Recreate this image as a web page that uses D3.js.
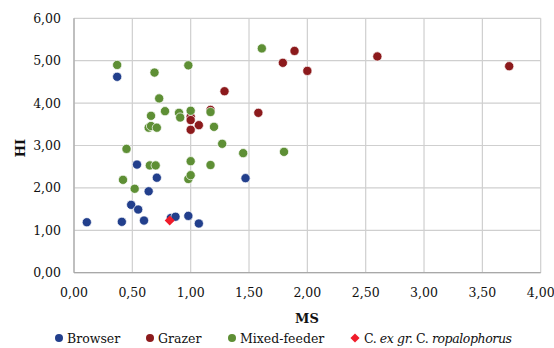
<!DOCTYPE html>
<html>
<head>
<meta charset="utf-8">
<script src="https://cdn.jsdelivr.net/npm/d3@7"></script>
<style>
  body { margin: 0; background: #fff; }
  svg { display: block; font-family: "DejaVu Serif", serif; }
</style>
</head>
<body>
<div id="chart"></div>
<script>
// values (MS, HI)
const browserMS = [0.11, 0.41, 0.49, 0.55, 0.60, 0.64, 0.71, 0.83, 0.87, 0.98, 1.07, 1.47, 0.54, 0.37];
const browserHI = [1.19, 1.20, 1.60, 1.49, 1.23, 1.92, 2.24, 1.29, 1.32, 1.34, 1.16, 2.23, 2.55, 4.62];

const grazerMS = [1.89, 1.79, 2.00, 2.60, 3.73, 1.29, 1.58, 1.00, 1.00, 1.07, 1.00, 1.17];
const grazerHI = [5.23, 4.95, 4.76, 5.10, 4.87, 4.28, 3.77, 3.68, 3.60, 3.48, 3.37, 3.84];

const mixedMS = [0.37, 0.69, 0.98, 1.61, 0.73, 0.78, 0.90, 0.91, 1.00, 1.17, 0.66, 0.64, 0.66, 0.71,
                 1.20, 1.27, 1.45, 0.45, 0.65, 0.70, 1.00, 1.17, 1.80, 0.42, 0.52, 0.98, 1.00];
const mixedHI = [4.90, 4.72, 4.89, 5.29, 4.11, 3.81, 3.77, 3.66, 3.82, 3.79, 3.70, 3.42, 3.46, 3.42,
                 3.44, 3.04, 2.82, 2.92, 2.53, 2.53, 2.63, 2.54, 2.85, 2.19, 1.98, 2.21, 2.30];

const ropaloMS = [0.82];
const ropaloHI = [1.23];

const xTicks = [0, 0.5, 1, 1.5, 2, 2.5, 3, 3.5, 4];
const yTicks = [0, 1, 2, 3, 4, 5, 6];

const W = 554, H = 348;
const fmt = d => d3.format(".2f")(d).replace(".", ",");

const svg = d3.select("#chart").append("svg")
  .attr("width", W).attr("height", H);

const x = d3.scaleLinear().domain([0, 4]).range([74, 540.7]);
const y = d3.scaleLinear().domain([0, 6]).range([272.7, 18.3]);

// gridlines
svg.append("g").selectAll("line").data(xTicks).join("line")
  .attr("x1", d => x(d)).attr("x2", d => x(d))
  .attr("y1", y(0)).attr("y2", y(6))
  .attr("stroke", "#cfcfcf").attr("stroke-width", 1.2);
svg.append("g").selectAll("line").data(yTicks).join("line")
  .attr("x1", x(0)).attr("x2", x(4))
  .attr("y1", d => y(d)).attr("y2", d => y(d))
  .attr("stroke", "#cfcfcf").attr("stroke-width", 1.2);

// axes lines
svg.append("line").attr("x1", x(0)).attr("x2", x(0)).attr("y1", y(0)).attr("y2", y(6))
  .attr("stroke", "#a8a8a8").attr("stroke-width", 1.2);
svg.append("line").attr("x1", x(0)).attr("x2", x(4)).attr("y1", y(0)).attr("y2", y(0))
  .attr("stroke", "#a8a8a8").attr("stroke-width", 1.2);

// tick labels
svg.append("g").selectAll("text").data(xTicks).join("text")
  .attr("x", d => x(d)).attr("y", 297)
  .attr("text-anchor", "middle")
  .attr("font-size", 12.5).attr("fill", "#111")
  .text(fmt);
svg.append("g").selectAll("text").data(yTicks).join("text")
  .attr("x", 61).attr("y", d => y(d) + 4.5)
  .attr("text-anchor", "end")
  .attr("font-size", 12.5).attr("fill", "#111")
  .text(fmt);

// axis titles
svg.append("text").attr("x", 307).attr("y", 323)
  .attr("text-anchor", "middle").attr("font-size", 13).attr("font-weight", "bold")
  .attr("fill", "#111").text("MS");
svg.append("text").attr("transform", "translate(25,148) rotate(-90)")
  .attr("text-anchor", "middle").attr("font-size", 13).attr("font-weight", "bold")
  .attr("fill", "#111").text("HI");

const colors = { browser: "#223f8c", grazer: "#8c1a1c", mixed: "#5e8f35", ropalo: "#f01c2a" };

function dots(ms, hi, color) {
  svg.append("g").selectAll("circle").data(d3.zip(ms, hi)).join("circle")
    .attr("cx", d => x(d[0])).attr("cy", d => y(d[1]))
    .attr("r", 4.6)
    .attr("fill", color).attr("stroke", "#fff").attr("stroke-width", 0.7);
}
dots(browserMS, browserHI, colors.browser);
dots(grazerMS, grazerHI, colors.grazer);
dots(mixedMS, mixedHI, colors.mixed);

const diamond = d3.symbol().type(d3.symbolSquare).size(50);
svg.append("g").selectAll("path").data(d3.zip(ropaloMS, ropaloHI)).join("path")
  .attr("transform", d => `translate(${x(d[0])},${y(d[1])}) rotate(45)`)
  .attr("d", diamond)
  .attr("fill", colors.ropalo);

// legend
const leg = svg.append("g").attr("font-size", 12.5).attr("fill", "#111");
const legY = 338;
[[59, colors.browser, "Browser"], [150, colors.grazer, "Grazer"], [232, colors.mixed, "Mixed-feeder"]]
  .forEach(([lx, c, label]) => {
    leg.append("circle").attr("cx", lx).attr("cy", legY).attr("r", 4).attr("fill", c);
    leg.append("text").attr("x", lx + 8).attr("y", legY + 4.5).text(label);
  });
leg.append("path")
  .attr("transform", `translate(355,${legY}) rotate(45)`)
  .attr("d", d3.symbol().type(d3.symbolSquare).size(42))
  .attr("fill", colors.ropalo);
const t = leg.append("text").attr("x", 364).attr("y", legY + 4.5).attr("textLength", 148);
t.append("tspan").text("C. ");
t.append("tspan").attr("font-style", "italic").text("ex gr.");
t.append("tspan").text(" C. ");
t.append("tspan").attr("font-style", "italic").text("ropalophorus");
</script>
</body>
</html>
